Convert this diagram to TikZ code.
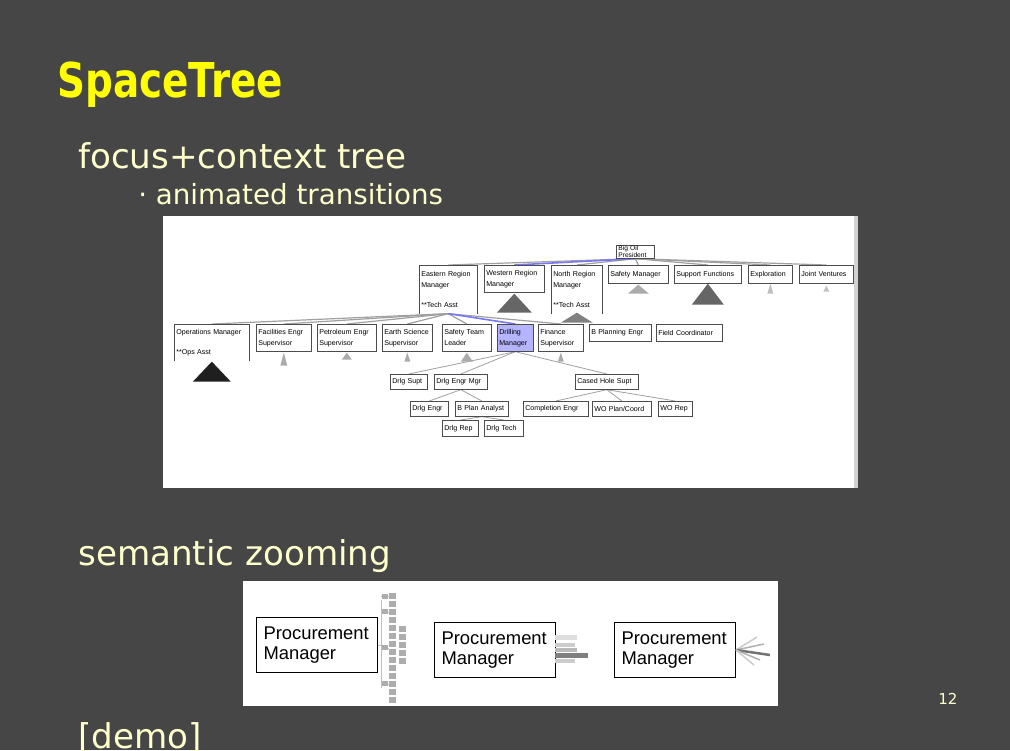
\documentclass[tikz,border=0pt]{standalone}
\usepackage{fontspec}
\setmainfont{DejaVu Sans}
\newfontfamily\orgfont{Liberation Sans}
\usepackage{graphicx}
\usepackage{tikz}
\usetikzlibrary{calc, backgrounds}
\definecolor{SlideGray}{HTML}{464646}
\definecolor{TitleYellow}{HTML}{FFFF00}
\definecolor{TextCream}{HTML}{FFFFCC}
\definecolor{FocusBlue}{HTML}{B4B4FF}
\definecolor{EdgeBlue}{HTML}{7878F5}
\definecolor{EdgeGray}{HTML}{A0A0A0}
\definecolor{StubDark}{HTML}{666666}
\definecolor{StubLight}{HTML}{ABABAB}
\newlength{\pxu}
\setlength{\pxu}{0.75pt}
% collapsed subtree under a node: node, drop, half width, height, colour
\newcommand{\collapsed}[5]{%
  \fill[#5] ([yshift=-#2\pxu]#1.south) -- ++(-#3,#4) -- ++(2*#3,0) -- cycle;}

\begin{document}
\begin{tikzpicture}[
    x=0.75pt, y=-0.75pt,
    slidetext/.style={anchor=base west, inner sep=0pt, text=TextCream},
    orgbox/.style 2 args={draw=black!70, line width=0.5pt, fill=white, anchor=north west, inner xsep=2\pxu, inner ysep=0pt, align=left, font=\orgfont\fontsize{5.3}{8.25}\selectfont, text width=#1\pxu, minimum height=#2\pxu},
    openbox/.style 2 args={orgbox={#1}{#2}, draw=none},
    procbox/.style={draw=black, line width=1\pxu, fill=white, anchor=north west, inner xsep=7\pxu, inner ysep=0pt, align=left, text width=107\pxu, minimum height=55\pxu, font=\orgfont\fontsize{13.8}{15}\selectfont},
    edge/.style={draw=EdgeGray, line width=1.2\pxu},
    subedge/.style={draw=EdgeGray, line width=0.8\pxu},
    focusedge/.style={draw=EdgeBlue, line width=1.6\pxu}
  ]
    \useasboundingbox (0,0) rectangle (1010,750);

    % Slide text
    \node (title) [slidetext, text=TitleYellow, font=\bfseries\fontsize{36}{40}\selectfont] at (57,97) {\scalebox{0.81}[1]{SpaceTree}};
    \node (focus) [slidetext, font=\fontsize{25.6}{30}\selectfont] at (78,168) {focus+context tree};
    \node (anim) [slidetext, font=\fontsize{20.8}{25}\selectfont] at (138,204) {· animated transitions};
    \node (semantic) [slidetext, font=\fontsize{25.6}{30}\selectfont] at (78,565) {semantic zooming};
    \node (demo) [slidetext, font=\fontsize{25.6}{30}\selectfont] at (78,748) {[demo]};
    \node (pagenum) [slidetext, font=\fontsize{11.3}{13}\selectfont] at (938,704) {12};

    % Tree nodes
    \node (root) [orgbox={34}{13}, font=\orgfont\fontsize{5}{4.2}\selectfont] at (616,245) {Big Oil\\President};
    \node (eastern) [openbox={54}{48}] at (419,265) {Eastern Region\\Manager\\[9\pxu]{**}Tech Asst};
    \node (western) [orgbox={56}{27}] at (484,265) {Western Region\\Manager};
    \node (north) [openbox={47}{48}] at (551,265) {North Region\\Manager\\[9\pxu]{**}Tech Asst};
    \node (safetymgr) [orgbox={56}{18}] at (608,265) {Safety Manager};
    \node (support) [orgbox={63}{18}] at (674,265) {Support Functions};
    \node (exploration) [orgbox={40}{18}] at (748,265) {Exploration};
    \node (jointv) [orgbox={50}{18}] at (799,265) {Joint Ventures};

    \node (opsmgr) [openbox={71}{36}] at (174,324) {Operations Manager\\[9\pxu]{**}Ops Asst};
    \node (facilities) [orgbox={51}{27}] at (256,324) {Facilities Engr\\Supervisor};
    \node (petroleum) [orgbox={55}{27}] at (317,324) {Petroleum Engr\\Supervisor};
    \node (earth) [orgbox={46}{27}] at (382,324) {Earth Science\\Supervisor};
    \node (safetyteam) [orgbox={45}{27}] at (442,324) {Safety Team\\Leader};
    \node (drilling) [orgbox={32}{27}, fill=FocusBlue] at (497,324) {Drilling\\Manager};
    \node (finance) [orgbox={41}{27}] at (538,324) {Finance\\Supervisor};
    \node (bplanning) [orgbox={58}{17}] at (589,324) {B Planning Engr};
    \node (fieldcoord) [orgbox={62}{17}] at (656,324) {Field Coordinator};

    \node (drlgsupt) [orgbox={33}{15}] at (390,374) {Drlg Supt};
    \node (drlgengrmgr) [orgbox={49}{15}] at (434,374) {Drlg Engr Mgr};
    \node (casedhole) [orgbox={59}{15}] at (575,374) {Cased Hole Supt};
    \node (drlgengr) [orgbox={34}{15}] at (410,401) {Drlg Engr};
    \node (bplan) [orgbox={49}{15}] at (455,401) {B Plan Analyst};
    \node (completion) [orgbox={61}{15}] at (523,401) {Completion Engr};
    \node (woplan) [orgbox={55}{15}] at (592,401) {WO Plan/Coord};
    \node (worep) [orgbox={30}{15}] at (658,401) {WO Rep};
    \node (drlgrep) [orgbox={32}{16}] at (442,420) {Drlg Rep};
    \node (drlgtech) [orgbox={35}{16}] at (484,420) {Drlg Tech};

    % open boxes
    \foreach \n in {eastern, north, opsmgr}
      \draw [black!70, line width=0.5pt] (\n.south west) |- (\n.north east) -- (\n.south east);

    % Collapsed subtrees
    \collapsed{western}{1}{17.5}{19}{StubDark}
    \collapsed{north}{-1}{16}{10}{black!50}
    \collapsed{safetymgr}{1}{10.5}{9}{StubLight}
    \collapsed{support}{0}{16}{21}{StubDark}
    \collapsed{exploration}{0}{3}{10}{black!25}
    \collapsed{jointv}{2}{3}{6}{black!25}
    \collapsed{opsmgr}{1}{19}{20}{black!88}
    \collapsed{facilities}{1}{3.5}{13}{StubLight}
    \collapsed{petroleum}{1}{5}{7}{StubLight}
    \collapsed{earth}{1}{3}{9}{StubLight}
    \collapsed{safetyteam}{1}{6}{9}{StubLight}
    \collapsed{finance}{1}{3}{9}{StubLight}

    % Semantic zooming
    \node (pmfull) [procbox] at (256,617) {Procurement\\Manager};
    \node (pmbars) [procbox] at (434,622) {Procurement\\Manager};
    \node (pmfan) [procbox] at (614,622) {Procurement\\Manager};

    % tiny tree beside the first box
    \draw [black!25, line width=1\pxu] (pmfull.east) -- (381,645) (381,600) -- (381,688);
    \foreach \yy in {596,612,648,684}
      \draw [black!25, line width=1\pxu] (381,\yy) -- (389,\yy);
    \foreach \yy in {593,601,...,697}
      \fill [black!32] (389,\yy) rectangle ++(7,6);
    \foreach \yy in {626,634,...,658}
      \fill [black!32] (399,\yy) rectangle ++(7,6);
    \foreach \yy in {594,609,645,681}
      \fill [black!32] (382,\yy) rectangle ++(6,5);

    % bars beside the second box
    \fill [black!13] (555,635) rectangle (577,640);
    \fill [black!20] (555,643) rectangle (575,647);
    \fill [black!27] (555,648) rectangle (577,652);
    \fill [black!50] (555,653) rectangle (588,658);
    \fill [black!20] (555,659) rectangle (575,663);

    % fan beside the third box
    \draw [black!20, line width=1.5\pxu] (pmfan.east) -- (757,637);
    \draw [black!30, line width=1.5\pxu] (pmfan.east) -- (764,644);
    \draw [black!55, line width=2.5\pxu] (pmfan.east) -- (770,655);
    \draw [black!30, line width=1.5\pxu] (pmfan.east) -- (760,660);
    \draw [black!20, line width=1.5\pxu] (pmfan.east) -- (754,665);

    % Background, panels and edges
    \begin{pgfonlayer}{background}
      \fill [SlideGray] (0,0) rectangle (1010,750);
      \fill [white] (163,216) rectangle (854,488);
      \fill [black!18] (854,216) rectangle (858,488);
      \fill [white] (243,581) rectangle (778,706);

      \foreach \kid in {eastern, north, safetymgr, support, exploration, jointv}
        \draw [edge] (root.south) -- (\kid.north);
      \draw [focusedge] (root.south) -- (western.north);
      \foreach \kid in {opsmgr, facilities, petroleum, earth, safetyteam, finance}
        \draw [edge] (eastern.south) -- (\kid.north);
      \draw [focusedge] (eastern.south) -- (drilling.north);
      \foreach \kid in {drlgsupt, drlgengrmgr, casedhole}
        \draw [subedge] (drilling.south) -- (\kid.north);
      \foreach \kid in {drlgengr, bplan}
        \draw [subedge] (drlgengrmgr.south) -- (\kid.north);
      \foreach \kid in {completion, woplan, worep}
        \draw [subedge] (casedhole.south) -- (\kid.north);
      \foreach \kid in {drlgrep, drlgtech}
        \draw [subedge] (bplan.south) -- (\kid.north);
    \end{pgfonlayer}
  \end{tikzpicture}
\end{document}
